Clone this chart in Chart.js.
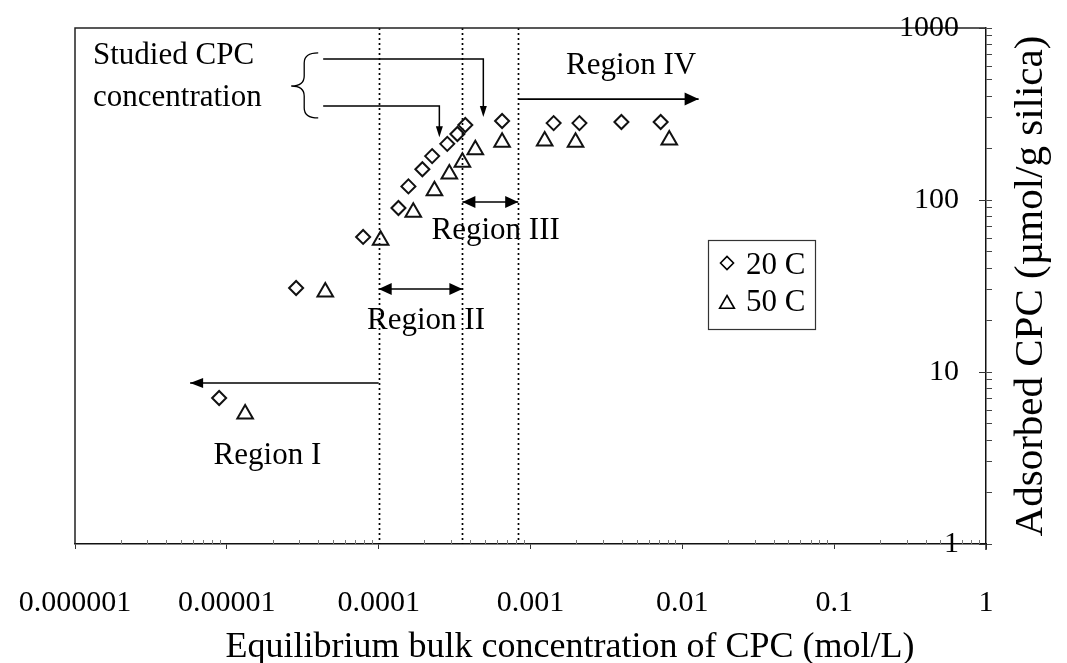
<!DOCTYPE html>
<html><head><meta charset="utf-8">
<script src="https://cdn.jsdelivr.net/npm/chart.js@4"></script>
<style>html,body{margin:0;padding:0;background:#fff;overflow:hidden}</style>
</head><body>
<canvas id="c" width="1067" height="663"></canvas>
<script>
// ---------- data ----------
const seriesNames = ['20 C', '50 C'];
const conc20 = [8.9e-6, 2.86e-5, 7.9e-5, 1.35e-4, 1.57e-4, 1.94e-4, 2.25e-4, 2.83e-4, 3.30e-4, 3.72e-4, 6.5e-4, 1.42e-3, 2.10e-3, 3.97e-3, 7.2e-3];
const ads20  = [7.06, 30.8, 61, 89.8, 120, 151, 180, 212, 242, 273, 288, 280, 280, 284, 284];
const conc50 = [1.32e-5, 4.45e-5, 1.03e-4, 1.69e-4, 2.33e-4, 2.92e-4, 3.56e-4, 4.33e-4, 6.5e-4, 1.24e-3, 1.98e-3, 8.2e-3];
const ads50  = [5.7, 29.2, 58.4, 85, 113, 141.5, 166, 196, 217, 220, 217, 223];

const xDecades = [1e-6, 1e-5, 1e-4, 1e-3, 1e-2, 1e-1, 1];
const xTickLabels = ['0.000001', '0.00001', '0.0001', '0.001', '0.01', '0.1', '1'];
const yDecades = [1, 10, 100, 1000];
const yTickLabels = ['1', '10', '100', '1000'];
const xTitle = 'Equilibrium bulk concentration of CPC (mol/L)';
const yTitle = 'Adsorbed CPC (\u00b5mol/g silica)';

// region boundaries (mol/L)
const regionBounds = [1e-4, 3.56e-4, 8.3e-4];
const regionNames = ['Region I', 'Region II', 'Region III', 'Region IV'];
const studiedText = ['Studied CPC', 'concentration'];

// ---------- helpers ----------
const FONT = '"Liberation Serif", "Times New Roman", serif';
Chart.defaults.font.family = FONT;
Chart.defaults.color = '#000';

function minorSet(decades) {
  const out = [];
  for (let i = 0; i < decades.length; i++) {
    out.push(decades[i]);
    if (i < decades.length - 1) for (let k = 2; k <= 9; k++) out.push(decades[i] * k);
  }
  return out;
}
function isDecade(v) { const l = Math.log10(v); return Math.abs(l - Math.round(l)) < 1e-6; }

function arrowHead(ctx, x1, y1, x2, y2, len, w) {
  const a = Math.atan2(y2 - y1, x2 - x1);
  const c = Math.cos(a), s = Math.sin(a);
  ctx.beginPath();
  ctx.moveTo(x2, y2);
  ctx.lineTo(x2 - len * c + (w / 2) * s, y2 - len * s - (w / 2) * c);
  ctx.lineTo(x2 - len * c - (w / 2) * s, y2 - len * s + (w / 2) * c);
  ctx.closePath();
  ctx.fill();
}
function line(ctx, pts) {
  ctx.beginPath();
  ctx.moveTo(pts[0][0], pts[0][1]);
  for (let i = 1; i < pts.length; i++) ctx.lineTo(pts[i][0], pts[i][1]);
  ctx.stroke();
}
function diamond(ctx, x, y, r) {
  ctx.beginPath();
  ctx.moveTo(x - r, y); ctx.lineTo(x, y - r); ctx.lineTo(x + r, y); ctx.lineTo(x, y + r);
  ctx.closePath(); ctx.stroke();
}
function triangle(ctx, x, y, r) {
  ctx.beginPath();
  let a = 0;
  ctx.moveTo(x + Math.sin(a) * r, y - Math.cos(a) * r);
  a += 2 * Math.PI / 3; ctx.lineTo(x + Math.sin(a) * r, y - Math.cos(a) * r);
  a += 2 * Math.PI / 3; ctx.lineTo(x + Math.sin(a) * r, y - Math.cos(a) * r);
  ctx.closePath(); ctx.stroke();
}

// ---------- plugins ----------
const decor = {
  id: 'decor',
  beforeDatasetsDraw(chart) {
    const {ctx, chartArea: ca, scales: {x}} = chart;
    ctx.save();
    ctx.strokeStyle = '#000';
    ctx.lineWidth = 1.7;
    ctx.setLineDash([2, 3]);
    regionBounds.forEach(v => {
      const px = Math.round(x.getPixelForValue(v)) + 0.5;
      line(ctx, [[px, ca.top], [px, ca.bottom]]);
    });
    ctx.restore();
  },
  afterDraw(chart) {
    const {ctx, chartArea: ca, scales: {x, y}} = chart;
    const X = v => x.getPixelForValue(v), Y = v => y.getPixelForValue(v);
    ctx.save();
    // frame top & left
    ctx.strokeStyle = '#222';
    ctx.lineWidth = 1.5;
    line(ctx, [[ca.left, ca.bottom], [ca.left, ca.top], [ca.right, ca.top]]);
    // right axis runs a little below the x axis
    line(ctx, [[ca.right, ca.bottom], [ca.right, ca.bottom + 6]]);

    // x minor ticks (inside)
    ctx.strokeStyle = '#777';
    ctx.lineWidth = 1;
    minorSet(xDecades).forEach(v => {
      const px = Math.round(X(v)) + 0.5;
      if (!isDecade(v)) line(ctx, [[px, ca.bottom - 4], [px, ca.bottom]]);
    });
    // y major ticks extend inside
    ctx.strokeStyle = '#333';
    yDecades.forEach(v => {
      const py = Math.round(Y(v)) + 0.5;
      line(ctx, [[ca.right - 7, py], [ca.right, py]]);
    });

    ctx.fillStyle = '#000';
    ctx.font = '30px ' + FONT;
    ctx.textBaseline = 'middle';
    // x tick labels
    ctx.textAlign = 'center';
    xDecades.forEach((v, i) => ctx.fillText(xTickLabels[i], X(v), ca.bottom + 59));
    // y tick labels (inside, left of right axis)
    ctx.textAlign = 'right';
    yDecades.forEach((v, i) => ctx.fillText(yTickLabels[i], ca.right - 27, Y(v)));

    // axis titles
    ctx.textAlign = 'center';
    ctx.font = '36px ' + FONT;
    ctx.fillText(xTitle, ca.left + 495, ca.bottom + 104);
    ctx.save();
    ctx.translate(ca.right + 45, 286);
    ctx.rotate(-Math.PI / 2);
    ctx.font = '41px ' + FONT;
    ctx.fillText(yTitle, 0, 0);
    ctx.restore();

    // region annotations
    ctx.strokeStyle = '#000';
    ctx.fillStyle = '#000';
    ctx.lineWidth = 1.6;
    ctx.setLineDash([]);
    // Region IV arrow
    let y0 = Y(386);
    line(ctx, [[X(regionBounds[2]), y0], [X(0.0128), y0]]);
    arrowHead(ctx, X(regionBounds[2]), y0, X(0.0128), y0, 14, 13);
    // Region III double arrow
    y0 = Y(97.3);
    line(ctx, [[X(regionBounds[1]), y0], [X(regionBounds[2]), y0]]);
    arrowHead(ctx, X(regionBounds[1]), y0, X(regionBounds[2]), y0, 13, 12);
    arrowHead(ctx, X(regionBounds[2]), y0, X(regionBounds[1]), y0, 13, 12);
    // Region II double arrow
    y0 = Y(30.4);
    line(ctx, [[X(regionBounds[0]), y0], [X(regionBounds[1]), y0]]);
    arrowHead(ctx, X(regionBounds[0]), y0, X(regionBounds[1]), y0, 13, 12);
    arrowHead(ctx, X(regionBounds[1]), y0, X(regionBounds[0]), y0, 13, 12);
    // Region I arrow (leftwards)
    y0 = Y(8.63);
    line(ctx, [[X(regionBounds[0]), y0], [X(5.73e-6), y0]]);
    arrowHead(ctx, X(regionBounds[0]), y0, X(5.73e-6), y0, 13, 10);

    ctx.font = '31px ' + FONT;
    ctx.textAlign = 'center';
    ctx.textBaseline = 'middle';
    ctx.fillText(regionNames[3], X(4.6e-3), Y(601));
    ctx.fillText(regionNames[2], X(5.9e-4), Y(66));
    ctx.fillText(regionNames[1], X(2.05e-4), Y(19.8));
    ctx.fillText(regionNames[0], X(1.85e-5), Y(3.25));

    // Studied CPC concentration
    ctx.textAlign = 'left';
    ctx.fillText(studiedText[0], X(1.314e-6), Y(687));
    ctx.fillText(studiedText[1], X(1.314e-6), Y(392));

    // brace
    ctx.lineWidth = 1.3;
    const bx = X(3.233e-5), bt = Y(716), bb = Y(300), bm = Y(460);
    ctx.beginPath();
    ctx.moveTo(bx + 14, bt);
    ctx.quadraticCurveTo(bx, bt, bx, bt + 10);
    ctx.lineTo(bx, bm - 10);
    ctx.quadraticCurveTo(bx, bm, bx - 13, bm);
    ctx.quadraticCurveTo(bx, bm, bx, bm + 10);
    ctx.lineTo(bx, bb - 10);
    ctx.quadraticCurveTo(bx, bb, bx + 14, bb);
    ctx.stroke();

    // leader lines with arrows
    ctx.lineWidth = 1.5;
    line(ctx, [[X(4.31e-5), Y(660)], [X(4.89e-4), Y(660)], [X(4.89e-4), Y(304) - 8]]);
    arrowHead(ctx, X(4.89e-4), Y(660), X(4.89e-4), Y(304), 11, 7);
    line(ctx, [[X(4.31e-5), Y(352)], [X(2.51e-4), Y(352)], [X(2.51e-4), Y(232) - 8]]);
    arrowHead(ctx, X(2.51e-4), Y(352), X(2.51e-4), Y(232), 11, 7);

    // legend
    const lx = ca.left + 633, ly = ca.top + 212, lw = 107, lh = 89;
    ctx.lineWidth = 1.2;
    ctx.strokeStyle = '#333';
    ctx.strokeRect(lx + 0.5, ly + 0.5, lw, lh);
    ctx.strokeStyle = '#000';
    ctx.lineWidth = 1.6;
    diamond(ctx, lx + 19, ly + 23, 6.5);
    triangle(ctx, lx + 19, ly + 64, 8.5);
    ctx.fillStyle = '#000';
    ctx.font = '31px ' + FONT;
    ctx.textAlign = 'left';
    ctx.textBaseline = 'middle';
    ctx.fillText(seriesNames[0], lx + 38, ly + 26);
    ctx.fillText(seriesNames[1], lx + 38, ly + 63);
    ctx.restore();
  }
};

// ---------- chart ----------
new Chart(document.getElementById('c'), {
  type: 'scatter',
  data: {
    datasets: [
      {
        label: seriesNames[0],
        data: conc20.map((v, i) => ({x: v, y: ads20[i]})),
        pointStyle: 'rectRot',
        pointRadius: 7,
        pointHoverRadius: 7,
        borderColor: '#111',
        backgroundColor: 'rgba(0,0,0,0)',
        pointBorderWidth: 2
      },
      {
        label: seriesNames[1],
        data: conc50.map((v, i) => ({x: v, y: ads50[i]})),
        pointStyle: 'triangle',
        pointRadius: 9,
        pointHoverRadius: 9,
        borderColor: '#111',
        backgroundColor: 'rgba(0,0,0,0)',
        pointBorderWidth: 2
      }
    ]
  },
  options: {
    responsive: false,
    animation: false,
    events: [],
    layout: {padding: {left: 75, top: 28, right: 75, bottom: 114}},
    plugins: {legend: {display: false}, tooltip: {enabled: false}},
    scales: {
      x: {
        type: 'logarithmic',
        min: xDecades[0],
        max: xDecades[xDecades.length - 1],
        afterBuildTicks: s => { s.ticks = minorSet(xDecades).map(v => ({value: v})); },
        ticks: {display: false},
        grid: {
          drawOnChartArea: false,
          drawTicks: true,
          tickLength: 5,
          color: c => (c.tick && isDecade(c.tick.value)) ? '#333' : 'rgba(0,0,0,0)'
        },
        border: {display: true, color: '#111', width: 1.5}
      },
      y: {
        type: 'logarithmic',
        position: 'right',
        min: yDecades[0],
        max: yDecades[yDecades.length - 1],
        afterBuildTicks: s => { s.ticks = minorSet(yDecades).map(v => ({value: v})); },
        ticks: {display: false},
        grid: {
          drawOnChartArea: false,
          drawTicks: true,
          tickLength: 6,
          color: '#444'
        },
        border: {display: true, color: '#111', width: 1.5}
      }
    }
  },
  plugins: [decor]
});
</script>
</body></html>
